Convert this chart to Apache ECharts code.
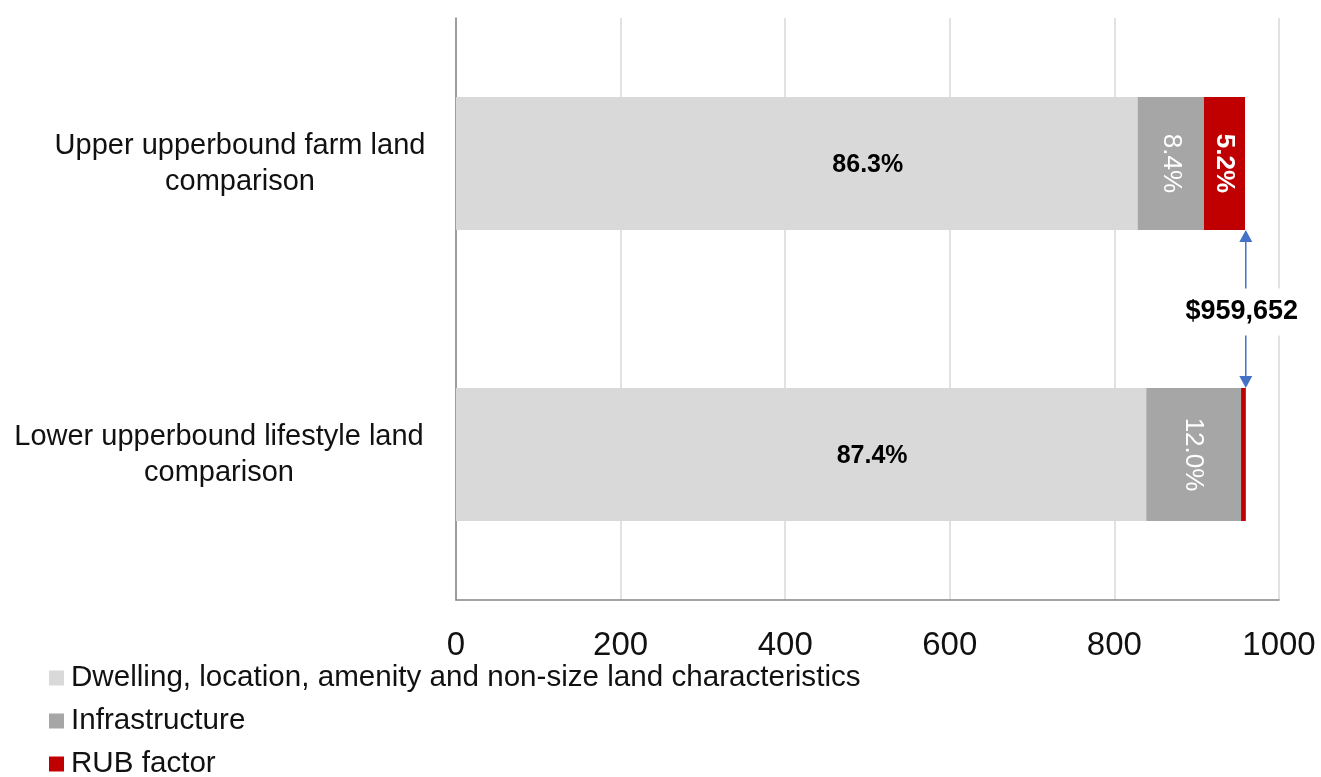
<!DOCTYPE html>
<html>
<head>
<meta charset="utf-8">
<script src="https://cdn.jsdelivr.net/npm/echarts@6/dist/echarts.min.js"></script>
<style>
  html, body { margin: 0; padding: 0; background: #fff; }
  #chart { width: 1321px; height: 777px; }
</style>
</head>
<body>
<div id="chart"></div>
<script>
const categories = ['Upper upperbound farm land\ncomparison', 'Lower upperbound lifestyle land\ncomparison']
const seriesNames = ['Dwelling, location, amenity and non-size land characteristics', 'Infrastructure', 'RUB factor']
// values in $ thousands
const dwelling = [828.2, 838.7]
const infrastructure = [80.6, 115.2]
const rubFactor = [49.9, 5.8]
const dwellingLabels = ['86.3%', '87.4%']
const infraLabels = ['8.4%', '12.0%']
const rubLabels = ['5.2%', '']
const xTicks = [0, 200, 400, 600, 800, 1000]
const total = 959.652
const totalLabel = '$959,652'

const font = 'Liberation Sans, Arial, sans-serif'
const barW = 133

const chart = echarts.init(document.getElementById('chart'), null, {renderer: 'canvas'})

const option = {
  animation: false,
  backgroundColor: '#fff',
  textStyle: {fontFamily: font},
  grid: {
    left: 456,
    right: 42,
    top: 18,
    bottom: 177,
    containLabel: false,
    outerBoundsMode: 'none'
  },
  legend: {
    orient: 'vertical',
    left: 44,
    top: 658,
    height: 140,
    itemWidth: 15,
    itemHeight: 15,
    itemGap: 13,
    icon: 'rect',
    data: seriesNames,
    textStyle: {fontSize: 29.6, lineHeight: 30, color: '#111', fontFamily: font, padding: [0, 0, 0, 2]}
  },
  xAxis: {
    type: 'value',
    min: xTicks[0],
    max: xTicks[xTicks.length - 1],
    interval: 200,
    axisLine: {show: true, lineStyle: {color: '#868686', width: 1.5}},
    axisTick: {show: false},
    splitLine: {show: true, lineStyle: {color: '#d9d9d9', width: 1.5}},
    axisLabel: {fontSize: 33, color: '#111', margin: 29, fontFamily: font, formatter: v => String(v)}
  },
  yAxis: {
    type: 'category',
    inverse: true,
    data: categories,
    axisLine: {show: true, lineStyle: {color: '#868686', width: 1.5}},
    axisTick: {show: false},
    axisLabel: {
      fontSize: 29, color: '#111', margin: 28, lineHeight: 36,
      align: 'right', fontFamily: font,
      formatter: (v, i) => {
        const key = i === 0 ? 'u' : 'l'
        return v.split('\n').map(s => '{' + key + '|' + s + '}').join('\n')
      },
      rich: {
        u: {width: 376, align: 'center', fontSize: 29, lineHeight: 36, color: '#111', fontFamily: font},
        l: {width: 418, align: 'center', fontSize: 29, lineHeight: 36, color: '#111', fontFamily: font}
      }
    }
  },
  series: [
    {
      name: seriesNames[0], type: 'bar', stack: 'total', barWidth: barW,
      data: dwelling,
      itemStyle: {color: '#d9d9d9'},
      label: {
        show: true, position: 'inside', offset: [71, 2], fontSize: 25, fontWeight: 'bold', color: '#000',
        formatter: p => dwellingLabels[p.dataIndex]
      }
    },
    {
      name: seriesNames[1], type: 'bar', stack: 'total', barWidth: barW,
      data: infrastructure,
      itemStyle: {color: '#a6a6a6'},
      label: {
        show: true, position: 'inside', rotate: -90, offset: [0, 0], fontSize: 26, color: '#fff',
        formatter: p => infraLabels[p.dataIndex]
      }
    },
    {
      name: seriesNames[2], type: 'bar', stack: 'total', barWidth: barW,
      data: rubFactor,
      itemStyle: {color: '#c00000'},
      label: {
        show: true, position: 'inside', rotate: -90, fontSize: 26, fontWeight: 'bold', color: '#fff',
        formatter: p => rubLabels[p.dataIndex]
      }
    }
  ]
}

chart.setOption(option)

// total-value arrow between the two bar ends
const upperPt = chart.convertToPixel({seriesIndex: 0}, [total, 0])
const lowerPt = chart.convertToPixel({seriesIndex: 0}, [total, 1])
const ax = upperPt[0]
const ay1 = upperPt[1] + barW / 2
const ay2 = lowerPt[1] - barW / 2
const ah = 12, aw = 6.5
const blue = '#4472c4'
chart.setOption({
  graphic: [
    {type: 'line', shape: {x1: ax, y1: ay1 + ah, x2: ax, y2: ay2 - ah}, style: {stroke: blue, lineWidth: 1.5}},
    {type: 'polygon', shape: {points: [[ax, ay1], [ax - aw, ay1 + ah], [ax + aw, ay1 + ah]]}, style: {fill: blue}},
    {type: 'polygon', shape: {points: [[ax, ay2], [ax - aw, ay2 - ah], [ax + aw, ay2 - ah]]}, style: {fill: blue}},
    {
      type: 'text', x: ax - 4, y: (ay1 + ay2) / 2 + 3, z: 10,
      style: {
        text: totalLabel, fontSize: 27, fontWeight: 'bold', fill: '#000', fontFamily: font,
        align: 'center', verticalAlign: 'middle',
        backgroundColor: '#fff', padding: [10, 6, 10, 6]
      }
    }
  ]
})
</script>
</body>
</html>
